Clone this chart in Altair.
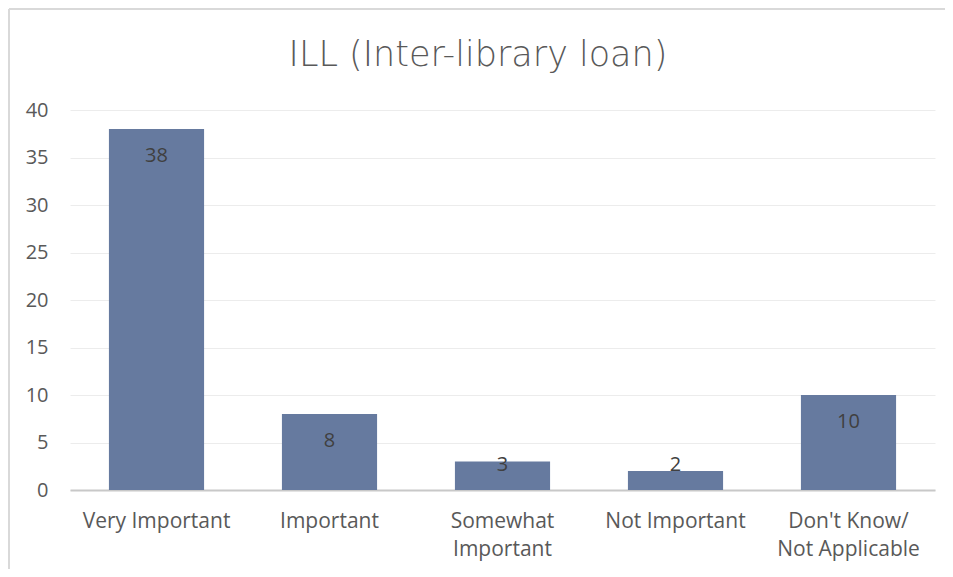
import altair as alt
import pandas as pd

categories = ["Very Important", "Important", "Somewhat\nImportant", "Not Important", "Don't Know/\nNot Applicable"]
values = [38, 8, 3, 2, 10]
y_ticks = [0, 5, 10, 15, 20, 25, 30, 35, 40]
title_text = "ILL (Inter-library loan)"

df = pd.DataFrame({"category": categories, "value": values})

FONT = "Open Sans"
TXT = "#595959"

base = alt.Chart(df)

bars = base.mark_bar(color="#667a9f").encode(
    x=alt.X("category:N", sort=None, title=None,
            scale=alt.Scale(paddingInner=0.45, paddingOuter=0.225),
            axis=alt.Axis(labelAngle=0, labelExpr="split(datum.label, '\\n')",
                          labelFontSize=21, labelColor=TXT, labelFont=FONT,
                          labelLineHeight=28, labelPadding=20, ticks=False,
                          domainColor="#c8c8c8", domainWidth=2, grid=False)),
    y=alt.Y("value:Q", title=None,
            scale=alt.Scale(domain=[0, 40], nice=False),
            axis=alt.Axis(values=y_ticks, labelFontSize=20, labelColor=TXT, labelFont=FONT,
                          ticks=False, domain=False, labelPadding=22,
                          gridColor="#ececec", gridWidth=1)),
)

labels = base.transform_calculate(
    pos="max(datum.value - 2.85, 2.6)"
).mark_text(fontSize=20, color="#404040", font=FONT, baseline="middle").encode(
    x=alt.X("category:N", sort=None),
    y=alt.Y("pos:Q"),
    text=alt.Text("value:Q"),
)

title = alt.Chart(pd.DataFrame({"t": [title_text]})).mark_text(
    font="DejaVu Sans", fontSize=35, fontWeight=200, color=TXT, baseline="middle", align="center"
).encode(x=alt.value(408), y=alt.value(-55), text="t:N")

border_left = base.mark_rule(color="#d9d9d9", strokeWidth=2).encode(
    x=alt.value(-61), y=alt.value(-101), y2=alt.value(600)
)
border_top = base.mark_rule(color="#d9d9d9", strokeWidth=2).encode(
    x=alt.value(-61), x2=alt.value(1000), y=alt.value(-101)
)

chart = alt.layer(bars, labels, title, border_left, border_top).properties(
    width=865, height=380,
    padding={"left": 62, "top": 102, "right": 10, "bottom": 79},
    autosize=alt.AutoSizeParams(type="none"),
).configure_view(stroke=None)

chart.save("out.html", embed_options={"renderer": "svg", "actions": False})
